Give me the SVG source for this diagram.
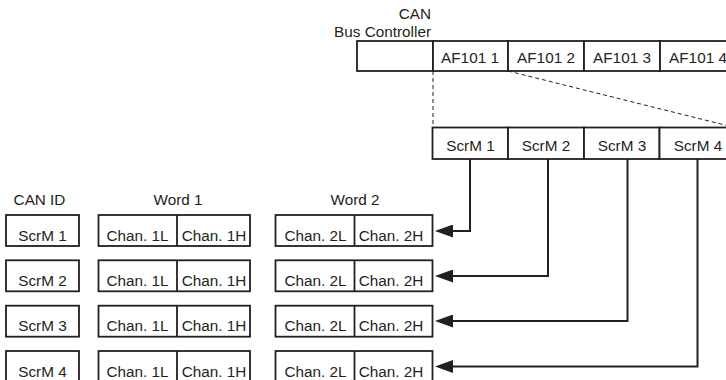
<svg xmlns="http://www.w3.org/2000/svg" width="726" height="380" viewBox="0 0 726 380">
<style>
text{font-family:"Liberation Sans",Arial,sans-serif;font-size:15.3px;fill:#231f20}
.c{text-anchor:middle}
.e{text-anchor:end}
.b{fill:#fff;stroke:#231f20;stroke-width:1.8}
.d{fill:none;stroke:#231f20;stroke-width:1.8}
.dash{fill:none;stroke:#231f20;stroke-width:1;stroke-dasharray:4 3}
.con{fill:none;stroke:#231f20;stroke-width:2}
</style>
<defs>
<marker id="ah" markerUnits="userSpaceOnUse" markerWidth="18" markerHeight="13" refX="13" refY="6.5" orient="auto">
<path d="M0,0 L18,6.5 L0,13 z" fill="#231f20"/>
</marker>
</defs>
<rect width="726" height="380" fill="#fff"/>

<g id="bus-controller">
<text class="e" x="431" y="19">CAN</text>
<text class="e" x="431" y="37">Bus Controller</text>
<rect class="b" x="357" y="41" width="76" height="30"/>
</g>
<g id="af101-1"><rect class="b" x="433" y="41" width="75" height="30"/><text class="c" x="470" y="63">AF101 1</text></g>
<g id="af101-2"><rect class="b" x="508" y="41" width="76" height="30"/><text class="c" x="546" y="63">AF101 2</text></g>
<g id="af101-3"><rect class="b" x="584" y="41" width="76" height="30"/><text class="c" x="622" y="63">AF101 3</text></g>
<g id="af101-4"><rect class="b" x="660" y="41" width="76" height="30"/><text class="c" x="698" y="63">AF101 4</text></g>

<g id="scrm-row-1"><rect class="b" x="432.5" y="127.5" width="75.5" height="31.5"/><text class="c" x="470.5" y="151">ScrM 1</text></g>
<g id="scrm-row-2"><rect class="b" x="508" y="127.5" width="76" height="31.5"/><text class="c" x="546" y="151">ScrM 2</text></g>
<g id="scrm-row-3"><rect class="b" x="584" y="127.5" width="75.5" height="31.5"/><text class="c" x="622" y="151">ScrM 3</text></g>
<g id="scrm-row-4"><rect class="b" x="659.5" y="127.5" width="76" height="31.5"/><text class="c" x="698" y="151">ScrM 4</text></g>

<g id="headers">
<text class="c" x="39.5" y="204.5">CAN ID</text>
<text class="c" x="178" y="204.5">Word 1</text>
<text class="c" x="355" y="204.5">Word 2</text>
</g>

<g id="msg-1">
<rect class="b" x="6" y="215" width="73" height="31"/><text class="c" x="42.5" y="240.5">ScrM 1</text>
<rect class="b" x="98.5" y="215" width="151.5" height="31"/><line class="d" x1="177" y1="215" x2="177" y2="246"/>
<text class="c" x="137.5" y="240.5">Chan. 1L</text><text class="c" x="214" y="240.5">Chan. 1H</text>
<rect class="b" x="275.5" y="215" width="157" height="31"/><line class="d" x1="354.5" y1="215" x2="354.5" y2="246"/>
<text class="c" x="315.5" y="240.5">Chan. 2L</text><text class="c" x="391" y="240.5">Chan. 2H</text>
</g>
<g id="msg-2">
<rect class="b" x="6" y="260.3" width="73" height="31"/><text class="c" x="42.5" y="285.8">ScrM 2</text>
<rect class="b" x="98.5" y="260.3" width="151.5" height="31"/><line class="d" x1="177" y1="260.3" x2="177" y2="291.3"/>
<text class="c" x="137.5" y="285.8">Chan. 1L</text><text class="c" x="214" y="285.8">Chan. 1H</text>
<rect class="b" x="275.5" y="260.3" width="157" height="31"/><line class="d" x1="354.5" y1="260.3" x2="354.5" y2="291.3"/>
<text class="c" x="315.5" y="285.8">Chan. 2L</text><text class="c" x="391" y="285.8">Chan. 2H</text>
</g>
<g id="msg-3">
<rect class="b" x="6" y="305.7" width="73" height="31"/><text class="c" x="42.5" y="331.2">ScrM 3</text>
<rect class="b" x="98.5" y="305.7" width="151.5" height="31"/><line class="d" x1="177" y1="305.7" x2="177" y2="336.7"/>
<text class="c" x="137.5" y="331.2">Chan. 1L</text><text class="c" x="214" y="331.2">Chan. 1H</text>
<rect class="b" x="275.5" y="305.7" width="157" height="31"/><line class="d" x1="354.5" y1="305.7" x2="354.5" y2="336.7"/>
<text class="c" x="315.5" y="331.2">Chan. 2L</text><text class="c" x="391" y="331.2">Chan. 2H</text>
</g>
<g id="msg-4">
<rect class="b" x="6" y="351" width="73" height="31"/><text class="c" x="42.5" y="376.5">ScrM 4</text>
<rect class="b" x="98.5" y="351" width="151.5" height="31"/><line class="d" x1="177" y1="351" x2="177" y2="382"/>
<text class="c" x="137.5" y="376.5">Chan. 1L</text><text class="c" x="214" y="376.5">Chan. 1H</text>
<rect class="b" x="275.5" y="351" width="157" height="31"/><line class="d" x1="354.5" y1="351" x2="354.5" y2="382"/>
<text class="c" x="315.5" y="376.5">Chan. 2L</text><text class="c" x="391" y="376.5">Chan. 2H</text>
</g>

<g id="connectors">
<path class="dash" d="M433,71 V127.5"/>
<path class="dash" d="M508,71 L735,127.5"/>
<path class="con" d="M470,159 V231 H440" marker-end="url(#ah)"/>
<path class="con" d="M548,159 V276 H440" marker-end="url(#ah)"/>
<path class="con" d="M627.5,159 V321 H440" marker-end="url(#ah)"/>
<path class="con" d="M697.5,159 V366.5 H440" marker-end="url(#ah)"/>
</g>
</svg>
